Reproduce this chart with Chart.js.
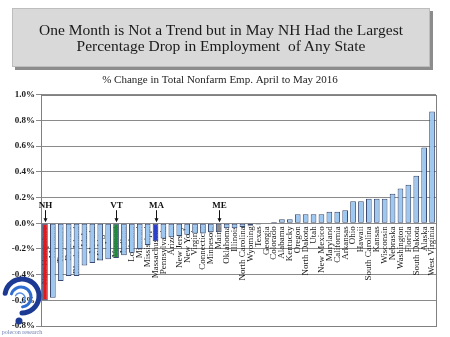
<!DOCTYPE html>
<html>
<head>
<meta charset="utf-8">
<script src="https://cdn.jsdelivr.net/npm/chart.js@4.4.1/dist/chart.umd.min.js"></script>
<style>
  html, body { margin: 0; padding: 0; background: #fff; }
  #wrap { position: relative; width: 450px; height: 337px; overflow: hidden; }
  #headline {
    position: absolute; left: 12px; top: 8px; width: 416px; height: 57px;
    background: #d9d9d9; border: 1px solid #bdbdbd;
    box-shadow: 3px 3px 0 #8c8c8c;
    font-family: "Liberation Serif", "Times New Roman", serif;
    font-size: 15.5px; line-height: 16px; color: #1a1a1a;
    text-align: center; display: flex; align-items: center; justify-content: center;
    z-index: 2;
  }
  canvas { position: absolute; left: 0; top: 0; }
</style>
</head>
<body>
<div id="wrap">
  <div id="headline">One Month is Not a Trend but in May NH Had the Largest<br>Percentage Drop in Employment&nbsp; of Any State</div>
  <canvas id="chart" width="450" height="337"></canvas>
</div>
<script>
// states sorted by April→May 2016 change in nonfarm employment (%)
const states = [
  "New Hampshire", "Montana", "Tennessee", "Delaware", "Rhode Island", "Idaho", "Nevada",
  "Michigan", "Iowa", "Vermont", "Indiana", "Louisiana", "Missouri", "Mississippi",
  "Massachusetts", "Pennsylvania", "Arizona", "New Jersey", "New York", "Virginia",
  "Connecticut", "Minnesota", "Maine", "Oklahoma", "Illinois", "North Carolina", "Wyoming",
  "Texas", "Georgia", "Colorado", "Alabama", "Kentucky", "Oregon", "North Dakota", "Utah",
  "New Mexico", "Maryland", "California", "Arkansas", "Ohio", "Hawaii", "South Carolina",
  "Kansas", "Wisconsin", "Nebraska", "Washington", "Florida", "South Dakota", "Alaska",
  "West Virginia"
];
const pctChange = [
  -0.60, -0.58, -0.45, -0.41, -0.41, -0.33, -0.31,
  -0.29, -0.28, -0.27, -0.25, -0.23, -0.20, -0.17,
  -0.14, -0.12, -0.11, -0.10, -0.09, -0.08,
  -0.08, -0.07, -0.07, -0.04, -0.04, -0.03, -0.02,
  -0.01, 0.00, 0.01, 0.03, 0.03, 0.07, 0.07, 0.07,
  0.07, 0.09, 0.09, 0.10, 0.17, 0.17, 0.19,
  0.19, 0.19, 0.23, 0.27, 0.30, 0.37, 0.59,
  0.87
];
const yTicks = [-0.8, -0.6, -0.4, -0.2, 0.0, 0.2, 0.4, 0.6, 0.8, 1.0];

// New England states get their own colour and a callout
const callouts = ["NH", "VT", "MA", "ME"];
const calloutStates = ["New Hampshire", "Vermont", "Massachusetts", "Maine"];
const special = {
  "New Hampshire": "#e3191c",
  "Vermont": "#1f8a3b",
  "Massachusetts": "#2d3fc8",
  "Maine": "#8c8c8c"
};
const barFill = states.map(s => special[s] || "#9cc8f2");

const serif = "'Liberation Serif', 'Times New Roman', serif";

const frame = {
  id: "frame",
  afterDraw(chart) {
    const { ctx, chartArea: a, scales } = chart;
    ctx.save();
    ctx.strokeStyle = "#808080";
    ctx.lineWidth = 1;
    ctx.strokeRect(Math.round(a.left) + 0.5, Math.round(a.top) + 0.5,
      Math.round(a.right - a.left), Math.round(a.bottom - a.top));

    // callout letters with arrows down to the bar
    const y0 = scales.y.getPixelForValue(0);
    ctx.fillStyle = "#111";
    ctx.strokeStyle = "#111";
    ctx.font = "bold 9px " + serif;
    ctx.textAlign = "center";
    ctx.textBaseline = "middle";
    callouts.forEach((lbl, i) => {
      const x = Math.round(scales.x.getPixelForValue(states.indexOf(calloutStates[i]))) + 0.5;
      ctx.fillText(lbl, x, y0 - 18);
      ctx.beginPath();
      ctx.moveTo(x, y0 - 13);
      ctx.lineTo(x, y0 - 2);
      ctx.stroke();
      ctx.beginPath();
      ctx.moveTo(x - 2, y0 - 5);
      ctx.lineTo(x, y0 - 1);
      ctx.lineTo(x + 2, y0 - 5);
      ctx.closePath();
      ctx.fill();
    });

    // polecon research mark
    ctx.lineCap = "round";
    ctx.strokeStyle = "#1c3a93";
    ctx.lineWidth = 5;
    ctx.beginPath();
    ctx.arc(22, 296, 17, Math.PI * 1.05, Math.PI * 0.5);
    ctx.stroke();
    ctx.strokeStyle = "#2f6cd0";
    ctx.lineWidth = 3;
    ctx.beginPath();
    ctx.arc(21, 297, 10, Math.PI * 1.1, Math.PI * 0.45);
    ctx.stroke();
    ctx.strokeStyle = "#5a8ee0";
    ctx.lineWidth = 1.5;
    ctx.beginPath();
    ctx.arc(20, 298, 5, Math.PI * 1.15, Math.PI * 0.4);
    ctx.stroke();
    ctx.fillStyle = "#1c3a93";
    ctx.beginPath();
    ctx.arc(19, 321, 3.5, 0, Math.PI * 2);
    ctx.fill();
    ctx.fillStyle = "#6f7fb0";
    ctx.font = "6px " + serif;
    ctx.textAlign = "center";
    ctx.fillText("polecon research", 22, 332);
    ctx.restore();
  }
};

new Chart(document.getElementById("chart"), {
  type: "bar",
  data: {
    labels: states,
    datasets: [{
      data: pctChange,
      backgroundColor: barFill,
      borderColor: "#3b4a6e",
      borderWidth: 1,
      borderSkipped: false,
      barPercentage: 0.72,
      categoryPercentage: 1.0
    }]
  },
  options: {
    responsive: false,
    animation: false,
    layout: { padding: { left: 4, right: 14, top: 0, bottom: 11 } },
    plugins: {
      legend: { display: false },
      tooltip: { enabled: false },
      title: {
        display: true,
        text: "% Change in Total Nonfarm Emp. April to May 2016",
        color: "#222",
        font: { family: serif, size: 11, weight: "normal" },
        padding: { top: 73.5, bottom: 8 }
      }
    },
    scales: {
      x: {
        position: { y: 0 },
        grid: { display: false, drawTicks: true, tickLength: 1 },
        border: { display: false },
        ticks: {
          autoSkip: false,
          minRotation: 90,
          maxRotation: 90,
          padding: 2,
          color: "#1a1a1a",
          font: { family: serif, size: 9 }
        }
      },
      y: {
        min: -0.8,
        max: 1.0,
        afterBuildTicks: s => { s.ticks = yTicks.map(v => ({ value: v })); },
        afterFit: s => { s.width = 37; },
        grid: { color: "#8a8a8a", lineWidth: 1, tickLength: 5 },
        border: { color: "#808080" },
        ticks: {
          padding: 1,
          color: "#1a1a1a",
          font: { family: serif, size: 9, weight: "bold" },
          callback: v => v.toFixed(1) + "%"
        }
      }
    }
  },
  plugins: [frame]
});
</script>
</body>
</html>
